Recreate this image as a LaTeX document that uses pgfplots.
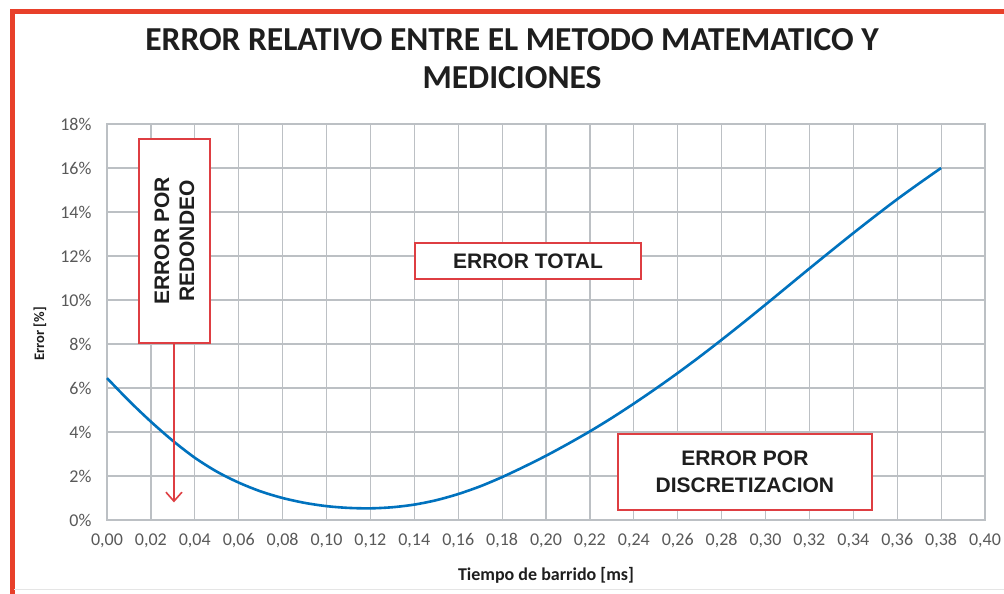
\documentclass[border=0pt]{standalone}
\usepackage{fontspec}
\setmainfont{Carlito}
\newfontfamily\arialfont{Liberation Sans}
\usepackage{pgfplots}
\pgfplotsset{compat=1.18}
\usetikzlibrary{arrows.meta}
\definecolor{frame}{RGB}{232,64,42}
\definecolor{boxred}{RGB}{222,62,66}
\definecolor{curve}{RGB}{0,114,190}
\definecolor{gridc}{RGB}{188,192,196}
\definecolor{ticktext}{RGB}{89,89,89}
\definecolor{titletext}{RGB}{30,30,30}
\begin{document}
\begin{tikzpicture}[x=1pt,y=1pt]
\path[use as bounding box] (0pt,0pt) rectangle (1004pt,594pt);
\fill[white] (0pt,0pt) rectangle (1004pt,594pt);
\draw[frame, line width=5pt] (12pt,0pt) -- (12pt,582pt) -- (1004pt,582pt);
\draw[gray!20, line width=1pt] (14pt,4pt) -- (1004pt,4pt);
\node[font=\fontsize{33.5}{33.5}\selectfont\bfseries, text=titletext] at (512pt,554pt) {ERROR RELATIVO ENTRE EL METODO MATEMATICO Y};
\node[font=\fontsize{33.5}{33.5}\selectfont\bfseries, text=titletext] at (512pt,516pt) {MEDICIONES};
\begin{axis}[
  at={(107pt,74pt)}, anchor=south west,
  width=878pt, height=396pt, scale only axis,
  xmin=0, xmax=0.4, ymin=0, ymax=18,
  xtick={0,0.02,0.04,0.06,0.08,0.10,0.12,0.14,0.16,0.18,0.20,0.22,0.24,0.26,0.28,0.30,0.32,0.34,0.36,0.38,0.40},
  ytick={0,2,4,6,8,10,12,14,16,18},
  grid=major,
  major grid style={gridc, line width=1.2pt},
  axis line style={gridc, line width=1.2pt},
  major tick length=0pt,
  tick style={draw=none},
  xticklabel style={font=\fontsize{18}{18}\selectfont, text=ticktext, anchor=north, yshift=-10pt},
  yticklabel style={font=\fontsize{18}{18}\selectfont, text=ticktext, anchor=east, xshift=-12pt},
  xticklabel={\pgfmathprintnumber[fixed, fixed zerofill, precision=2, use comma, assume math mode=true]{\tick}},
  yticklabel={\pgfmathprintnumber[fixed, precision=0, assume math mode=true]{\tick}\%},
  xlabel={Tiempo de barrido [ms]},
  ylabel={Error [\%]},
  xlabel style={font=\fontsize{18}{18}\selectfont\bfseries, text=titletext, at={(axis description cs:0.5,-0.139)}, anchor=center},
  ylabel style={font=\fontsize{14.5}{14.5}\selectfont\bfseries, text=titletext, at={(axis description cs:-0.0763,0.47)}, anchor=center},
  clip=false,
]
\addplot[curve, line width=2.6pt, smooth] coordinates {
(0.00,6.45)(0.01,5.42)(0.02,4.47)(0.03,3.60)(0.04,2.83)(0.05,2.20)(0.06,1.70)(0.07,1.30)(0.08,1.00)(0.09,0.78)(0.10,0.63)(0.11,0.55)(0.12,0.53)(0.13,0.58)(0.14,0.70)(0.15,0.90)(0.16,1.18)(0.17,1.53)(0.18,1.95)(0.19,2.42)(0.20,2.92)(0.21,3.46)(0.22,4.03)(0.23,4.64)(0.24,5.29)(0.25,5.97)(0.26,6.68)(0.27,7.42)(0.28,8.19)(0.29,8.98)(0.30,9.79)(0.31,10.61)(0.32,11.43)(0.33,12.24)(0.34,13.04)(0.35,13.82)(0.36,14.58)(0.37,15.30)(0.38,16.00)
};
\draw[boxred, line width=1.6pt, -{Straight Barb[length=9pt,width=16pt]}] (axis cs:0.0305,8.05) -- (axis cs:0.0305,0.8);
\node[draw=boxred, line width=2.2pt, fill=white, minimum width=71pt, minimum height=204pt, inner sep=0pt] at (axis cs:0.03075,12.68) {};
\node[rotate=90, font=\arialfont\fontsize{21}{25}\selectfont\bfseries, align=center, text=titletext] at (axis cs:0.03075,12.68) {ERROR POR\\REDONDEO};
\node[draw=boxred, line width=2.2pt, fill=white, minimum width=226pt, minimum height=36pt, inner sep=0pt, font=\arialfont\fontsize{21}{25}\selectfont\bfseries, text=titletext] at (axis cs:0.1918,11.77) {ERROR TOTAL};
\node[draw=boxred, line width=2.2pt, fill=white, minimum width=254pt, minimum height=76pt, inner sep=0pt, align=center, font=\arialfont\fontsize{21}{27}\selectfont\bfseries, text=titletext] at (axis cs:0.2906,2.18) {ERROR POR\\DISCRETIZACION};
\end{axis}
\end{tikzpicture}
\end{document}
